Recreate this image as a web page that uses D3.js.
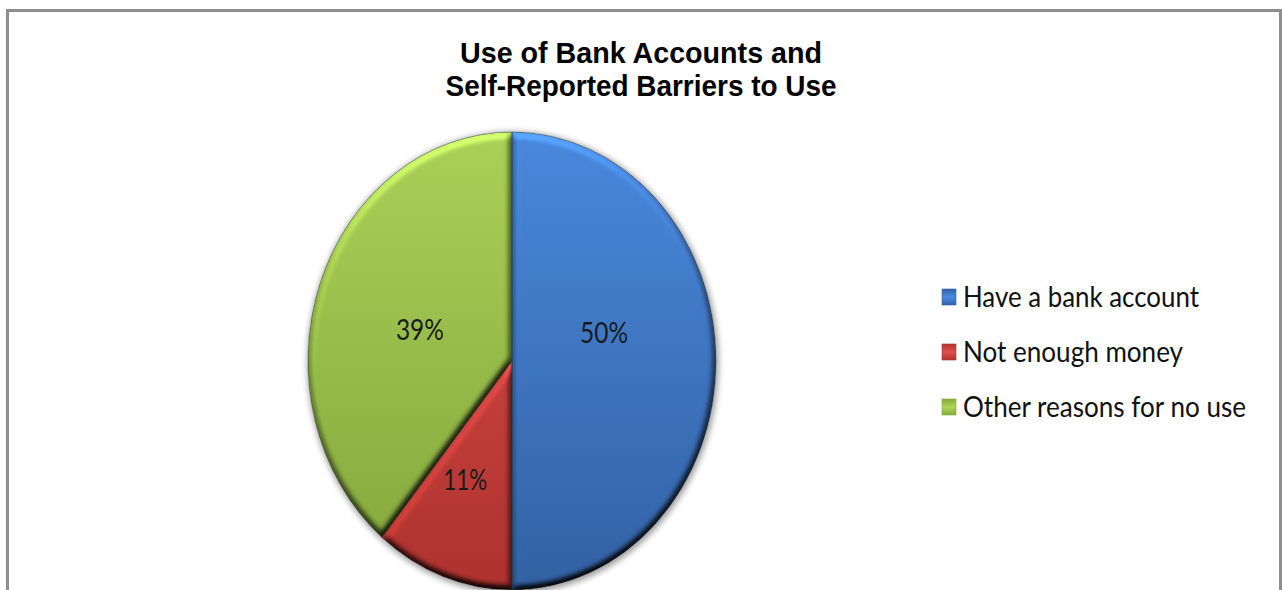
<!DOCTYPE html>
<html>
<head>
<meta charset="utf-8">
<script src="https://cdn.jsdelivr.net/npm/d3@7"></script>
<style>
  html, body { margin: 0; padding: 0; background: #fff; }
  svg { display: block; }
</style>
</head>
<body>
<svg id="chart" width="1282" height="590"></svg>
<script>
// Survey shares of bank account use and reported barriers
const categories = ["Have a bank account", "Not enough money", "Other reasons for no use"];
const values = [50, 11, 39];
const valueLabels = values.map(v => v + "%");
const titleLines = ["Use of Bank Accounts and", "Self-Reported Barriers to Use"];

// Slice fills: lighter tone at the top of the pie, deeper tone at the bottom
const colorsTop = ["#4a8be0", "#e0504b", "#aed459"];
const colorsBottom = ["#3363a6", "#b1332f", "#86aa3c"];

const W = 1282, H = 590;
const svg = d3.select("#chart");
const defs = svg.append("defs");

// chart frame
svg.append("rect")
  .attr("x", 7.5).attr("y", 10.5)
  .attr("width", 1273).attr("height", 620)
  .attr("fill", "#fff")
  .attr("stroke", "#8e8e8e").attr("stroke-width", 3);

// title
const title = svg.append("g")
  .attr("font-family", "'Liberation Sans', Arial, sans-serif")
  .attr("font-weight", "bold")
  .attr("font-size", 26)
  .attr("fill", "#000")
  .attr("text-anchor", "middle");
const titleWidths = [362, 391];
titleLines.forEach((t, i) => {
  title.append("text")
    .attr("transform", `translate(641,${63 + i * 33}) scale(1,1.1)`)
    .attr("textLength", titleWidths[i])
    .attr("lengthAdjust", "spacingAndGlyphs")
    .text(t);
});

// pie geometry: circular pie stretched vertically
const cx = 512, cy = 361, rx = 204, ry = 229;
const sy = ry / rx;

// bevel lighting applied to each slice
const bevel = defs.append("filter").attr("id", "bevel")
  .attr("x", "-10%").attr("y", "-10%").attr("width", "120%").attr("height", "120%")
  .attr("color-interpolation-filters", "sRGB");
bevel.append("feGaussianBlur").attr("in", "SourceAlpha").attr("stdDeviation", 3.5).attr("result", "b");
const diff = bevel.append("feDiffuseLighting")
  .attr("in", "b").attr("surfaceScale", 5).attr("diffuseConstant", 1)
  .attr("lighting-color", "#fff").attr("result", "d");
diff.append("feDistantLight").attr("azimuth", 255).attr("elevation", 55);
bevel.append("feComposite").attr("in", "SourceGraphic").attr("in2", "d")
  .attr("operator", "arithmetic").attr("k1", 1.22).attr("k2", 0).attr("k3", 0).attr("k4", 0)
  .attr("result", "lit");
bevel.append("feComposite").attr("in", "lit").attr("in2", "SourceAlpha").attr("operator", "in");

// soft shadow around the pie
const shadow = defs.append("filter").attr("id", "shadow")
  .attr("x", "-20%").attr("y", "-20%").attr("width", "140%").attr("height", "140%");
shadow.append("feGaussianBlur").attr("stdDeviation", 3);

// vertical gradients per slice
categories.forEach((c, i) => {
  const g = defs.append("linearGradient")
    .attr("id", "grad" + i)
    .attr("gradientUnits", "userSpaceOnUse")
    .attr("x1", 0).attr("y1", -rx).attr("x2", 0).attr("y2", rx);
  g.append("stop").attr("offset", "0%").attr("stop-color", colorsTop[i]);
  g.append("stop").attr("offset", "100%").attr("stop-color", colorsBottom[i]);
});

const pieG = svg.append("g")
  .attr("transform", `translate(${cx},${cy}) scale(1,${sy})`);

pieG.append("circle")
  .attr("cx", 1).attr("cy", 1.5).attr("r", rx + 1.5)
  .attr("fill", "#000").attr("opacity", 0.4)
  .attr("filter", "url(#shadow)");

const pie = d3.pie().sort(null).value(d => d)(values);
const arc = d3.arc().innerRadius(0).outerRadius(rx);

pieG.selectAll("path.slice")
  .data(pie)
  .join("path")
  .attr("class", "slice")
  .attr("d", arc)
  .attr("fill", (d, i) => `url(#grad${i})`)
  .attr("filter", "url(#bevel)");

// thin dividers between slices
pieG.selectAll("path.edge")
  .data(pie)
  .join("path")
  .attr("class", "edge")
  .attr("d", arc)
  .attr("fill", "none")
  .attr("stroke", "rgba(30,40,30,0.45)")
  .attr("stroke-width", 0.8);

// value labels near each slice centroid
const labelArc = d3.arc().innerRadius(100).outerRadius(100);
const labelNudge = [[-8, -28], [-13, 14], [2, 7]];
svg.append("g")
  .attr("font-family", "Lato, 'Open Sans', sans-serif")
  .attr("font-size", 26)
  .attr("fill", "#1a1a1a")
  .attr("text-anchor", "middle")
  .selectAll("text")
  .data(pie)
  .join("text")
  .attr("transform", (d, i) => {
    const x = cx + labelArc.centroid(d)[0] + labelNudge[i][0];
    const y = cy + labelArc.centroid(d)[1] * sy + labelNudge[i][1];
    return `translate(${x},${y}) scale(1,1.08)`;
  })
  .attr("dy", "0.35em")
  .attr("textLength", (d, i) => i === 1 ? 44 : 48)
  .attr("lengthAdjust", "spacingAndGlyphs")
  .text((d, i) => valueLabels[i]);

// legend
categories.forEach((c, i) => {
  const g = defs.append("linearGradient").attr("id", "lg" + i)
    .attr("x1", 0).attr("y1", 0).attr("x2", 0).attr("y2", 1);
  g.append("stop").attr("offset", "0%").attr("stop-color", colorsBottom[i]);
  g.append("stop").attr("offset", "50%").attr("stop-color", colorsTop[i]);
  g.append("stop").attr("offset", "100%").attr("stop-color", colorsBottom[i]);
});
const legend = svg.append("g").attr("transform", "translate(942,0)");
const legendY = d3.scalePoint().domain(categories).range([297, 407]);
const legendWidths = [236, 220, 283];
const rows = legend.selectAll("g.row")
  .data(categories)
  .join("g")
  .attr("class", "row")
  .attr("transform", d => `translate(0,${legendY(d)})`);
rows.append("rect")
  .attr("x", 0).attr("y", -8)
  .attr("width", 14).attr("height", 16)
  .attr("fill", (d, i) => `url(#lg${i})`)
  .attr("stroke", (d, i) => colorsBottom[i]).attr("stroke-width", 0.6);
rows.append("text")
  .attr("transform", "translate(21,0) scale(1,1.08)")
  .attr("dy", "0.35em")
  .attr("font-family", "Lato, 'Open Sans', sans-serif")
  .attr("font-size", 26)
  .attr("fill", "#111")
  .attr("textLength", (d, i) => legendWidths[i])
  .attr("lengthAdjust", "spacingAndGlyphs")
  .text(d => d);
</script>
</body>
</html>
